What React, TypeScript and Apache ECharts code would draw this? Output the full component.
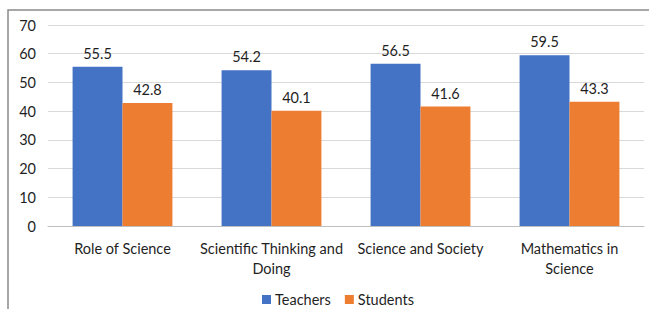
import React, { useEffect, useRef } from "react";
import * as echarts from "echarts";

const categories = [
  "Role of Science",
  "Scientific Thinking and\nDoing",
  "Science and Society",
  "Mathematics in\nScience",
];
const teachers = [55.5, 54.2, 56.5, 59.5];
const students = [42.8, 40.1, 41.6, 43.3];
const seriesNames = ["Teachers", "Students"];
const yTicks = { min: 0, max: 70, interval: 10 };

const FONT = "Lato, 'Open Sans', sans-serif";
const TEXT = "#1f1f1f";
const FS = 14.5;

export default function App() {
  const ref = useRef<HTMLDivElement>(null);
  useEffect(() => {
    if (!ref.current) return;
    const chart = echarts.init(ref.current, null, { renderer: "svg" });
    const label = {
      show: true,
      position: "top",
      distance: 6,
      fontSize: FS,
      color: TEXT,
      fontFamily: FONT,
    };
    chart.setOption({
      animation: false,
      textStyle: { fontFamily: FONT },
      graphic: [
        {
          type: "rect",
          shape: { x: 8, y: 10, width: 700, height: 400 },
          style: { fill: "none", stroke: "#8a8a8a", lineWidth: 1.5 },
          silent: true,
        },
      ],
      grid: { left: 48, right: 5, top: 25, bottom: 83, containLabel: false },
      legend: {
        data: seriesNames,
        left: 257,
        top: 287,
        itemWidth: 9,
        itemHeight: 9,
        itemGap: 14,
        icon: "rect",
        textStyle: { fontSize: FS, color: TEXT, fontFamily: FONT, padding: [0, 0, 0, -1] },
      },
      xAxis: {
        type: "category",
        data: categories,
        axisLine: { lineStyle: { color: "#bfbfbf", width: 1 } },
        axisTick: { show: false },
        axisLabel: {
          fontSize: FS,
          color: TEXT,
          fontFamily: FONT,
          margin: 12,
          lineHeight: 20,
          interval: 0,
        },
      },
      yAxis: {
        type: "value",
        min: yTicks.min,
        max: yTicks.max,
        interval: yTicks.interval,
        axisLine: { show: false },
        axisTick: { show: false },
        splitLine: { lineStyle: { color: "#d9d9d9", width: 1 } },
        axisLabel: { fontSize: FS, color: TEXT, fontFamily: FONT, margin: 12 },
      },
      series: [
        {
          name: seriesNames[0],
          type: "bar",
          data: teachers,
          barGap: "0%",
          barCategoryGap: "33%",
          itemStyle: { color: "#4472C4" },
          label,
        },
        {
          name: seriesNames[1],
          type: "bar",
          data: students,
          barGap: "0%",
          barCategoryGap: "33%",
          itemStyle: { color: "#ED7D31" },
          label,
        },
      ],
    });
    return () => chart.dispose();
  }, []);
  return (
    <div
      ref={ref}
      style={{ position: "absolute", left: 0, top: 0, width: 649, height: 309, background: "#fff" }}
    />
  );
}
